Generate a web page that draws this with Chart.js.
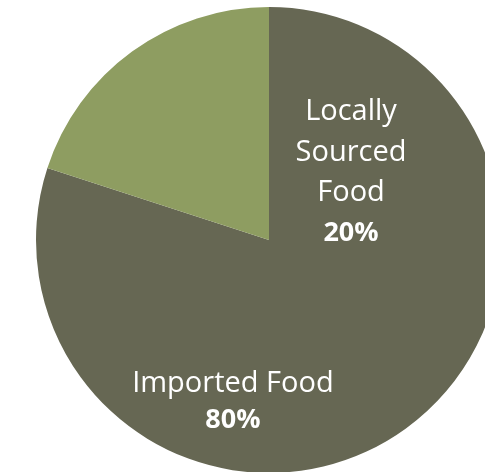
<!DOCTYPE html>
<html>
<head>
<meta charset="utf-8">
<script src="https://cdn.jsdelivr.net/npm/chart.js@4"></script>
<style>
  body { margin: 0; overflow: hidden; background: #fff; }
  #pie { display: block; }
</style>
</head>
<body>
<canvas id="pie" width="538" height="480"></canvas>
<script>
// Data
const categories = ['Imported Food', 'Locally Sourced Food']
const shares = [80, 20]
const sliceColors = ['#666753', '#8e9d61']

// label text blocks (value line is added in bold below them) and where they sit,
// as fractions of the radius from the pie centre
const labelLines = [
  ['Imported Food'],
  ['Locally', 'Sourced', 'Food']
]
const labelSpots = [
  { dx: -0.155, dy: 0.695, lh: 37 },
  { dx: 0.352, dy: -0.288, lh: 40.5 }
]

const sliceLabels = {
  id: 'sliceLabels',
  afterDatasetsDraw(chart) {
    const c = chart.ctx
    const arc = chart.getDatasetMeta(0).data[0]
    const cx = arc.x, cy = arc.y, r = arc.outerRadius
    c.save()
    c.fillStyle = '#ffffff'
    c.textAlign = 'center'
    c.textBaseline = 'middle'
    shares.forEach((v, i) => {
      const spot = labelSpots[i]
      const lines = labelLines[i]
      const n = lines.length + 1
      const x = cx + spot.dx * r
      let y = cy + spot.dy * r - (n - 1) * spot.lh / 2
      c.font = '29px "Open Sans"'
      lines.forEach(t => {
        c.fillText(t, x, y)
        y += spot.lh
      })
      c.font = 'bold 27px "Open Sans"'
      c.fillText(v + '%', x, y)
    })
    c.restore()
  }
}

const myChart = new Chart(document.getElementById('pie'), {
  type: 'pie',
  data: {
    labels: categories,
    datasets: [{
      data: shares,
      backgroundColor: sliceColors,
      borderWidth: 0
    }]
  },
  options: {
    responsive: false,
    animation: false,
    layout: { padding: 7 },
    plugins: {
      legend: { display: false },
      tooltip: { enabled: false }
    }
  },
  plugins: [sliceLabels]
})
</script>
</body>
</html>
